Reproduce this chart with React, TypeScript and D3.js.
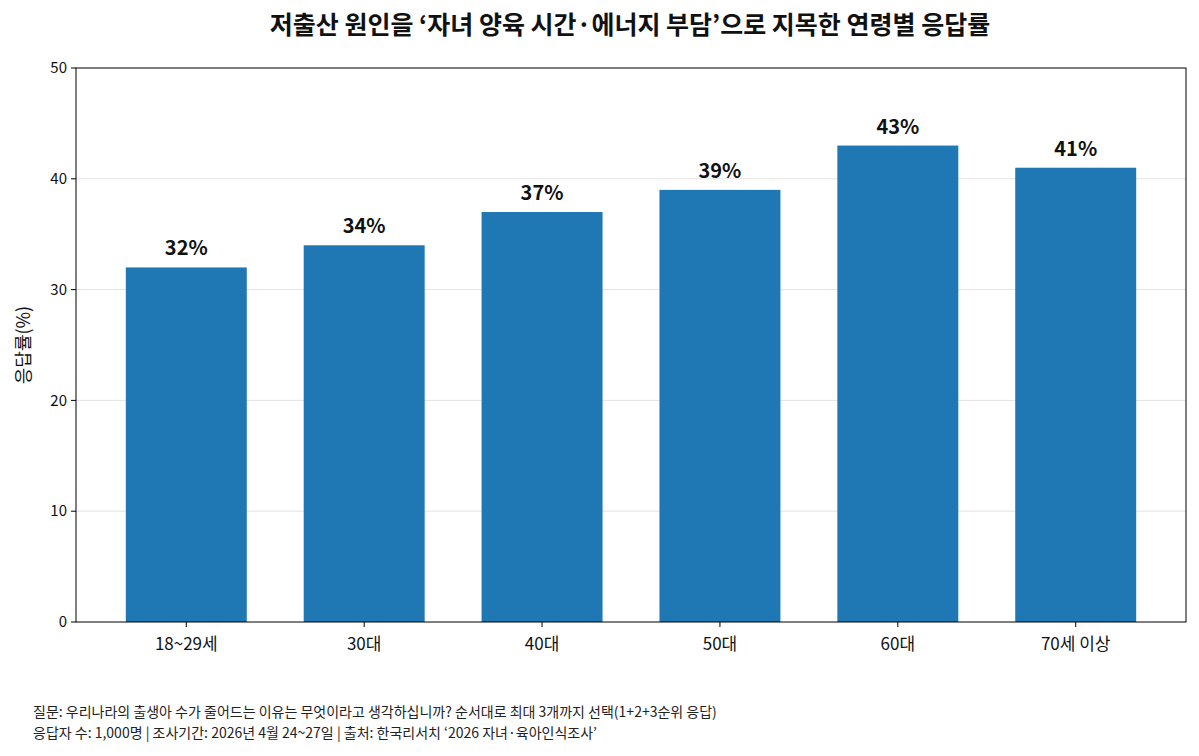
import React from 'react'
import * as d3 from 'd3'

const categories = ['18~29세', '30대', '40대', '50대', '60대', '70세 이상']
const values = [32, 34, 37, 39, 43, 41]
const yTicks = [0, 10, 20, 30, 40, 50]

const W = 1199
const H = 756
const m = { top: 68, right: 13, bottom: 134, left: 76 }
const FONT = '"Noto Sans CJK KR", "Noto Sans", sans-serif'

export default function App() {
  const iw = W - m.left - m.right
  const ih = H - m.top - m.bottom
  const x = d3.scaleBand().domain(categories).range([0, iw]).paddingInner(0.32).paddingOuter(0.28)
  const y = d3.scaleLinear().domain([0, 50]).range([ih, 0])

  return (
    <svg width={W} height={H} style={{ position: 'absolute', left: 0, top: 0, fontFamily: FONT }}>
      <rect width={W} height={H} fill="#fff" />
      <text x={630} y={34} textAnchor="middle" fontSize={25} fontWeight={700} fill="#111">
        저출산 원인을 ‘자녀 양육 시간·에너지 부담’으로 지목한 연령별 응답률
      </text>
      <g transform={`translate(${m.left},${m.top})`}>
        {yTicks.slice(1, -1).map(t => (
          <line key={t} x1={0} x2={iw} y1={y(t)} y2={y(t)} stroke="#e3e3e3" strokeWidth={1} />
        ))}
        {values.map((v, i) => (
          <g key={categories[i]}>
            <rect x={x(categories[i])} y={y(v)} width={x.bandwidth()} height={ih - y(v)} fill="#1f77b4" />
            <text x={x(categories[i])! + x.bandwidth() / 2} y={y(v) - 12} textAnchor="middle"
              fontSize={20} fontWeight={700} fill="#111">{v}%</text>
          </g>
        ))}
        <rect x={0} y={0} width={iw} height={ih} fill="none" stroke="#000" strokeWidth={1} />
        {yTicks.map(t => (
          <g key={t} transform={`translate(0,${y(t)})`}>
            <line x1={-5} x2={0} stroke="#000" />
            <text x={-9} dy="0.35em" textAnchor="end" fontSize={15} fill="#111">{t}</text>
          </g>
        ))}
        {categories.map(c => (
          <g key={c} transform={`translate(${x(c)! + x.bandwidth() / 2},${ih})`}>
            <line y2={5} stroke="#000" />
            <text y={28} textAnchor="middle" fontSize={17} fill="#111">{c}</text>
          </g>
        ))}
        <text transform={`translate(${-46},${ih / 2}) rotate(-90)`} textAnchor="middle" fontSize={18} fill="#111">응답률(%)</text>
      </g>
      <text x={33} y={717} fontSize={14} fill="#222">질문: 우리나라의 출생아 수가 줄어드는 이유는 무엇이라고 생각하십니까? 순서대로 최대 3개까지 선택(1+2+3순위 응답)</text>
      <text x={33} y={738} fontSize={14} fill="#222">응답자 수: 1,000명 | 조사기간: 2026년 4월 24~27일 | 출처: 한국리서치 ‘2026 자녀·육아인식조사’</text>
    </svg>
  )
}
